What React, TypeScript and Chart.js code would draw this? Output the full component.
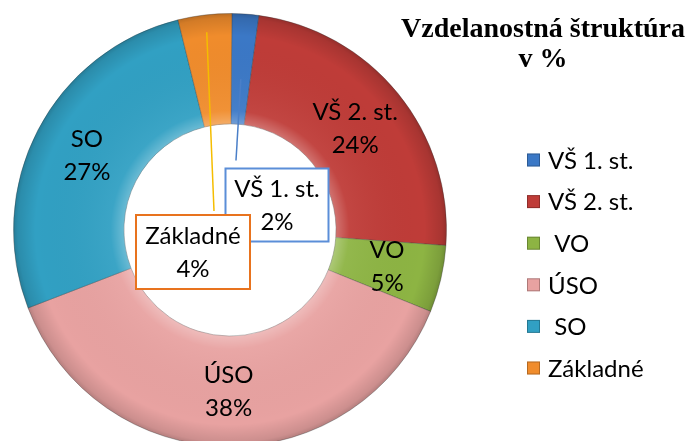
import { useEffect, useRef } from "react";
import { Chart, registerables } from "chart.js";

Chart.register(...registerables);

// ---- data ----
const categories = ["VŠ 1. st.", "VŠ 2. st.", "VO", "ÚSO", "SO", "Základné"];
const legendLabels = ["VŠ 1. st.", "VŠ 2. st.", " VO", "ÚSO", " SO", "Základné"];
const values = [2, 24, 5, 38, 27, 4];
const colors = ["#3b78c6", "#bf3c38", "#8db443", "#e8a2a1", "#31a0c3", "#f08c2c"];
const titleLines = ["Vzdelanostná štruktúra", "v %"];

// callout styling for the small slices (index -> style)
const callouts: Record<number, { dx: number; dy: number; w: number; h: number; border: string; line: string; rStart: number; endDx: number; endDy: number }> = {
  0: { dx: 47, dy: -25, w: 103, h: 73, border: "#5b8ed8", line: "#4a7fc8", rStart: 0.7, endDx: -41, endDy: -8 },
  5: { dx: -37, dy: 22, w: 114, h: 74, border: "#e8731e", line: "#f5bd00", rStart: 0.92, endDx: 21, endDy: -4 },
};

const FONT = "Lato, 'Open Sans', sans-serif";

const decorPlugin = {
  id: "decor",
  afterDatasetsDraw(chart: any) {
    const ctx = chart.ctx as CanvasRenderingContext2D;
    const meta = chart.getDatasetMeta(0);
    const arc0 = meta.data[0];
    if (!arc0) return;
    const { x, y, innerRadius, outerRadius } = arc0.getProps(["x", "y", "innerRadius", "outerRadius"], true);
    ctx.save();
    const g = ctx.createRadialGradient(x, y, innerRadius, x, y, outerRadius);
    g.addColorStop(0, "rgba(255,255,255,0.28)");
    g.addColorStop(0.12, "rgba(255,255,255,0.05)");
    g.addColorStop(0.8, "rgba(0,0,0,0)");
    g.addColorStop(0.96, "rgba(0,0,0,0.12)");
    g.addColorStop(1, "rgba(0,0,0,0.22)");
    ctx.beginPath();
    ctx.arc(x, y, outerRadius, 0, Math.PI * 2);
    ctx.arc(x, y, innerRadius, 0, Math.PI * 2, true);
    ctx.fillStyle = g;
    ctx.fill("evenodd");
    ctx.restore();
  },
  afterDraw(chart: any) {
    const ctx = chart.ctx as CanvasRenderingContext2D;
    const meta = chart.getDatasetMeta(0);
    const arc0 = meta.data[0];
    if (!arc0) return;
    const { x: cx, y: cy } = arc0.getProps(["x", "y"], true);
    ctx.save();
    ctx.textAlign = "center";
    ctx.textBaseline = "middle";
    ctx.fillStyle = "#000";
    ctx.font = `24px ${FONT}`;
    meta.data.forEach((arc: any, i: number) => {
      if (callouts[i]) return;
      const p = arc.tooltipPosition(true);
      ctx.fillText(categories[i], p.x, p.y - 16);
      ctx.fillText(values[i] + "%", p.x, p.y + 17);
    });
    Object.keys(callouts).forEach((k) => {
      const i = Number(k);
      const c = callouts[i];
      const arc = meta.data[i];
      const { startAngle, endAngle, outerRadius } = arc.getProps(["startAngle", "endAngle", "outerRadius"], true);
      const mid = (startAngle + endAngle) / 2;
      const sx = cx + Math.cos(mid) * outerRadius * c.rStart;
      const sy = cy + Math.sin(mid) * outerRadius * c.rStart;
      const bx = cx + c.dx;
      const by = cy + c.dy;
      ctx.beginPath();
      ctx.moveTo(sx, sy);
      ctx.lineTo(bx + c.endDx, by - c.h / 2 + c.endDy);
      ctx.strokeStyle = c.line;
      ctx.lineWidth = 1.5;
      ctx.stroke();
    });
    Object.keys(callouts).forEach((k) => {
      const i = Number(k);
      const c = callouts[i];
      const bx = cx + c.dx;
      const by = cy + c.dy;
      ctx.fillStyle = "#fff";
      ctx.fillRect(bx - c.w / 2, by - c.h / 2, c.w, c.h);
      ctx.strokeStyle = c.border;
      ctx.lineWidth = 2;
      ctx.strokeRect(bx - c.w / 2, by - c.h / 2, c.w, c.h);
      ctx.fillStyle = "#000";
      ctx.fillText(categories[i], bx, by - 16);
      ctx.fillText(values[i] + "%", bx, by + 17);
    });
    const lx = 527, ly = 160, step = 41.6, sz = 13;
    legendLabels.forEach((lab, i) => {
      const yy = ly + i * step;
      ctx.fillStyle = colors[i];
      ctx.fillRect(lx, yy - sz / 2, sz, sz);
      ctx.strokeStyle = "rgba(0,0,0,0.25)";
      ctx.lineWidth = 1;
      ctx.strokeRect(lx + 0.5, yy - sz / 2 + 0.5, sz - 1, sz - 1);
      ctx.fillStyle = "#000";
      ctx.textAlign = "left";
      ctx.fillText(lab, 548, yy + 1);
    });
    ctx.textAlign = "center";
    ctx.font = `bold 28px 'Liberation Serif', serif`;
    ctx.fillText(titleLines[0], 543, 30);
    ctx.fillText(titleLines[1], 543, 60);
    ctx.restore();
  },
};

export default function App() {
  const ref = useRef<HTMLCanvasElement>(null);
  useEffect(() => {
    if (!ref.current) return;
    const chart = new Chart(ref.current, {
      type: "doughnut",
      data: {
        labels: categories,
        datasets: [
          {
            data: values,
            backgroundColor: colors,
            borderColor: "rgba(60,60,60,0.35)",
            borderWidth: 1,
          },
        ],
      },
      options: {
        responsive: false,
        animation: false,
        cutout: "49%",
        rotation: 0.5,
        layout: { padding: { left: 13, top: 13, right: 246, bottom: 23 } },
        plugins: { legend: { display: false }, title: { display: false }, tooltip: { enabled: false } },
      },
      plugins: [decorPlugin],
    });
    return () => chart.destroy();
  }, []);
  return (
    <div style={{ position: "absolute", left: 0, top: 0, width: 693, height: 441, overflow: "hidden", background: "#fff" }}>
      <canvas ref={ref} width={693} height={470} style={{ display: "block" }} />
    </div>
  );
}
